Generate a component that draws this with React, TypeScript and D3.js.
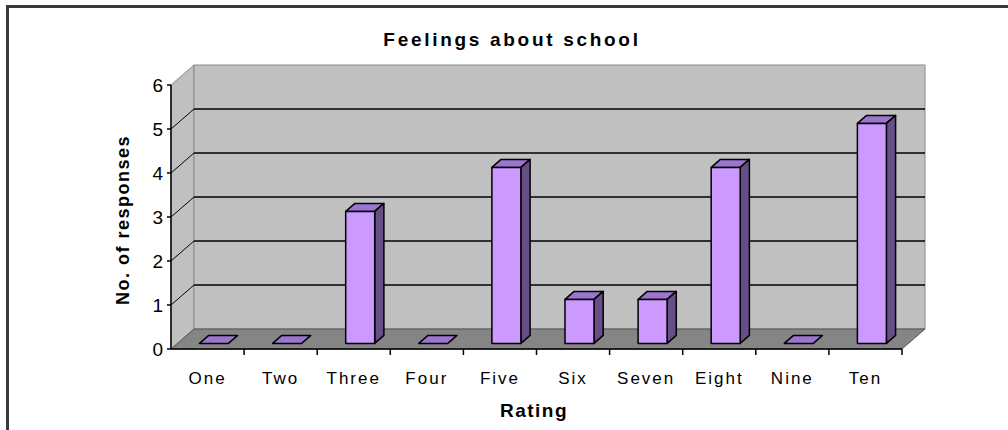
import React from "react";
import * as d3 from "d3";

const categories = ["One", "Two", "Three", "Four", "Five", "Six", "Seven", "Eight", "Nine", "Ten"];
const responses = [0, 0, 3, 0, 4, 1, 1, 4, 0, 5];
const yTicks = [0, 1, 2, 3, 4, 5, 6];

const title = "Feelings about school";
const yTitle = "No. of responses";
const xTitle = "Rating";

// 3d depth of the plot box
const DX = 23;
const DY = 20;

const App = () => {
  const x = d3.scaleBand().domain(categories).range([171, 902]);
  const y = d3.scaleLinear().domain([0, 6]).range([349, 85]);

  const barW = 29;
  const f0 = 0.28; // bar front depth fraction
  const f1 = 0.68; // bar back depth fraction

  const font = "Arial, 'Liberation Sans', sans-serif";
  const x0 = x.range()[0];
  const x1 = x.range()[1];
  const yTop = y(6);
  const yBot = y(0);

  const pts = (p: number[][]) => p.map(d => d.join(",")).join(" ");

  return (
    <svg width={1008} height={430} style={{ position: "absolute", left: 0, top: 0 }}>
      <rect x={0} y={0} width={1008} height={430} fill="white" />
      <rect x={7.5} y={6.5} width={1030} height={500} fill="none" stroke="#3a3a3a" strokeWidth={3} />

      {/* walls */}
      <polygon
        points={pts([[x0, yTop], [x0 + DX, yTop - DY], [x0 + DX, yBot - DY], [x0, yBot]])}
        fill="#c0c0c0" stroke="#8a8a8a" strokeWidth={1}
      />
      <rect x={x0 + DX} y={yTop - DY} width={x1 - x0} height={yBot - yTop} fill="#c0c0c0" stroke="#8a8a8a" strokeWidth={1} />
      <polygon
        points={pts([[x0, yBot], [x0 + DX, yBot - DY], [x1 + DX, yBot - DY], [x1, yBot]])}
        fill="#858585" stroke="#555" strokeWidth={1}
      />

      {/* gridlines */}
      {yTicks.filter(t => t > 0 && t < 6).map(t => (
        <g key={t}>
          <line x1={x0 + DX} x2={x1 + DX} y1={y(t) - DY} y2={y(t) - DY} stroke="#000" strokeWidth={1.3} />
          <line x1={x0} x2={x0 + DX} y1={y(t)} y2={y(t) - DY} stroke="#000" strokeWidth={1} />
        </g>
      ))}

      {/* bars */}
      {responses.map((v, i) => {
        const cx = (x(categories[i]) as number) + x.bandwidth() / 2;
        const fx = cx - barW / 2 + f0 * DX;
        const fy = y(0) - f0 * DY;
        const ox = (f1 - f0) * DX;
        const oy = (f1 - f0) * DY;
        const h = y(0) - y(v);
        const top = fy - h;
        return (
          <g key={categories[i]} stroke="#000" strokeWidth={1.5} strokeLinejoin="round">
            <polygon points={pts([[fx, top], [fx + ox, top - oy], [fx + barW + ox, top - oy], [fx + barW, top]])} fill="#9b75cf" />
            {v > 0 && (
              <>
                <polygon points={pts([[fx + barW, top], [fx + barW + ox, top - oy], [fx + barW + ox, fy - oy], [fx + barW, fy]])} fill="#664e86" />
                <rect x={fx} y={top} width={barW} height={h} fill="#cc99ff" />
              </>
            )}
          </g>
        );
      })}

      {/* y axis */}
      <line x1={x0} x2={x0} y1={yTop} y2={yBot} stroke="#000" strokeWidth={1.5} />
      {yTicks.map(t => (
        <g key={t}>
          <line x1={x0 - 4} x2={x0} y1={y(t)} y2={y(t)} stroke="#000" strokeWidth={1.5} />
          <text x={x0 - 8} y={y(t)} dy="0.36em" textAnchor="end" fontFamily={font} fontSize={19} fill="#000">{t}</text>
        </g>
      ))}

      {/* x axis */}
      <line x1={x0} x2={x1} y1={yBot} y2={yBot} stroke="#000" strokeWidth={1.5} />
      {categories.map((c, i) => (
        <g key={c}>
          <line x1={(x(c) as number) + x.bandwidth()} x2={(x(c) as number) + x.bandwidth()} y1={yBot} y2={yBot + 6} stroke="#000" strokeWidth={1.5} />
          <text x={(x(c) as number) + x.bandwidth() / 2} y={384} textAnchor="middle" fontFamily={font} fontSize={17} letterSpacing={2} fill="#000">{c}</text>
        </g>
      ))}

      {/* titles */}
      <text x={512} y={46} textAnchor="middle" fontFamily={font} fontSize={19} fontWeight="bold" letterSpacing={2.7} fill="#000">{title}</text>
      <text transform="translate(129,220) rotate(-90)" textAnchor="middle" fontFamily={font} fontSize={18} fontWeight="bold" letterSpacing={1.5} fill="#000">{yTitle}</text>
      <text x={534} y={417} textAnchor="middle" fontFamily={font} fontSize={19} fontWeight="bold" letterSpacing={1.5} fill="#000">{xTitle}</text>
    </svg>
  );
};

export default App;
